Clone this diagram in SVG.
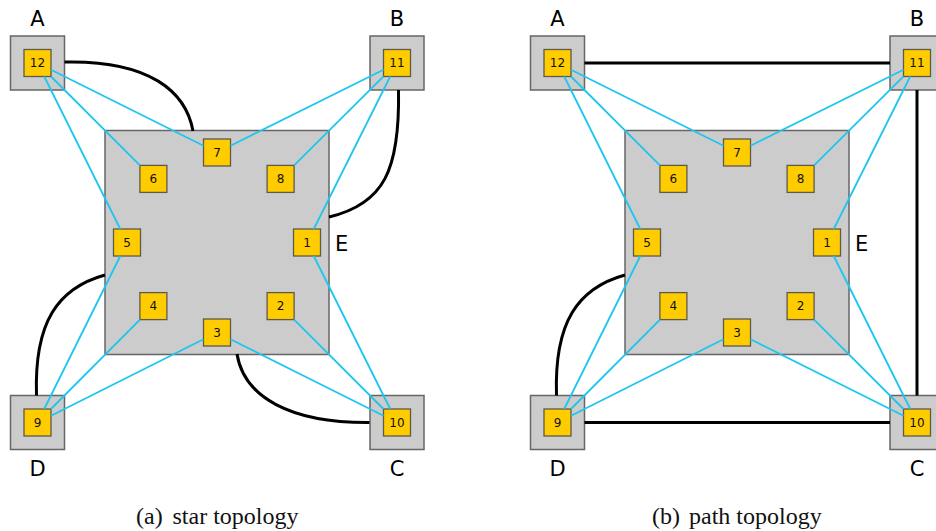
<svg xmlns="http://www.w3.org/2000/svg" width="936" height="531" viewBox="0 0 936 531">
  <style>
    .box { fill: #cccccc; stroke: #666666; stroke-width: 1.5; }
    .port { fill: #ffcc00; stroke: #5e5a4a; stroke-width: 1.3; }
    .num { font-family: "DejaVu Sans", sans-serif; font-size: 12px; text-anchor: middle; fill: #111; }
    .lbl { font-family: "DejaVu Sans", sans-serif; font-size: 21px; fill: #000; }
    .mid { text-anchor: middle; }
    .cap { font-family: "Liberation Serif", serif; font-size: 24px; fill: #111; }
    .link { stroke: #1cc6f0; stroke-width: 1.8; fill: none; }
    .trunk { stroke: #000; stroke-width: 3; fill: none; }
  </style>
  <defs>
    <!-- one yellow port, centred on its own origin -->
    <rect id="port" class="port" x="-13.5" y="-13.5" width="27" height="27"/>
    <!-- a corner switch: grey box around one port -->
    <rect id="corner" class="box" x="-27" y="-27" width="54" height="54"/>
    <!-- cyan links between the corner ports and the ports of E -->
    <g id="links">
      <line class="link" x1="51" y1="69.73" x2="203.5" y2="145.77"/>
      <line class="link" x1="51" y1="76.5" x2="139.9" y2="165.4"/>
      <line class="link" x1="44.23" y1="76.5" x2="120.27" y2="229"/>
      <line class="link" x1="383.5" y1="69.71" x2="230.5" y2="145.79"/>
      <line class="link" x1="383.5" y1="76.44" x2="294.1" y2="165.46"/>
      <line class="link" x1="390.23" y1="76.5" x2="313.77" y2="229"/>
      <line class="link" x1="390.25" y1="409" x2="313.75" y2="256"/>
      <line class="link" x1="383.5" y1="409" x2="294.1" y2="319.6"/>
      <line class="link" x1="383.5" y1="415.75" x2="230.5" y2="339.25"/>
      <line class="link" x1="44.21" y1="409" x2="120.29" y2="256"/>
      <line class="link" x1="50.94" y1="409" x2="139.96" y2="319.6"/>
      <line class="link" x1="51" y1="415.73" x2="203.5" y2="339.27"/>
    </g>
  </defs>

  <!-- (a) star topology -->
  <g id="star">
    <g id="a-A">
      <use href="#corner" x="37.5" y="63"/>
      <use href="#port" x="37.5" y="63"/>
      <text class="num" x="37.5" y="67.3">12</text>
      <text class="lbl mid" x="37.5" y="26">A</text>
    </g>
    <g id="a-B">
      <use href="#corner" x="397" y="63"/>
      <use href="#port" x="397" y="63"/>
      <text class="num" x="397" y="67.3">11</text>
      <text class="lbl mid" x="397" y="26">B</text>
    </g>
    <g id="a-C">
      <use href="#corner" x="397" y="422.5"/>
      <use href="#port" x="397" y="422.5"/>
      <text class="num" x="397" y="426.8">10</text>
      <text class="lbl mid" x="397" y="476">C</text>
    </g>
    <g id="a-D">
      <use href="#corner" x="37.5" y="422.5"/>
      <use href="#port" x="37.5" y="422.5"/>
      <text class="num" x="37.5" y="426.8">9</text>
      <text class="lbl mid" x="37.5" y="476">D</text>
    </g>
    <g id="a-E">
      <rect class="box" x="105" y="130.5" width="224" height="224"/>
      <use href="#port" x="307" y="242.5"/><text class="num" x="307" y="246.8">1</text>
      <use href="#port" x="280.6" y="306.1"/><text class="num" x="280.6" y="310.4">2</text>
      <use href="#port" x="217" y="332.5"/><text class="num" x="217" y="336.8">3</text>
      <use href="#port" x="153.4" y="306.1"/><text class="num" x="153.4" y="310.4">4</text>
      <use href="#port" x="127" y="242.5"/><text class="num" x="127" y="246.8">5</text>
      <use href="#port" x="153.4" y="178.9"/><text class="num" x="153.4" y="183.2">6</text>
      <use href="#port" x="217" y="152.5"/><text class="num" x="217" y="156.8">7</text>
      <use href="#port" x="280.6" y="178.9"/><text class="num" x="280.6" y="183.2">8</text>
      <text class="lbl" x="335" y="251">E</text>
    </g>
    <g id="a-connectors">
      <use href="#links"/>
      <path class="trunk" d="M64.5,62 C150,60 186,92 193,131"/>
      <path class="trunk" d="M398.5,90 C400,170 384,204 329,217"/>
      <path class="trunk" d="M36.5,395.5 C34,322 58,288 105,275"/>
      <path class="trunk" d="M237,354 C244,397 290,423 369.5,422.5"/>
    </g>
    <text class="cap" x="136" y="524">(a) <tspan x="172.5">star topology</tspan></text>
  </g>

  <!-- (b) path topology -->
  <g id="path" transform="translate(520,0)">
    <g id="b-A">
      <use href="#corner" x="37.5" y="63"/>
      <use href="#port" x="37.5" y="63"/>
      <text class="num" x="37.5" y="67.3">12</text>
      <text class="lbl mid" x="37.5" y="26">A</text>
    </g>
    <g id="b-B">
      <use href="#corner" x="397" y="63"/>
      <use href="#port" x="397" y="63"/>
      <text class="num" x="397" y="67.3">11</text>
      <text class="lbl mid" x="397" y="26">B</text>
    </g>
    <g id="b-C">
      <use href="#corner" x="397" y="422.5"/>
      <use href="#port" x="397" y="422.5"/>
      <text class="num" x="397" y="426.8">10</text>
      <text class="lbl mid" x="397" y="476">C</text>
    </g>
    <g id="b-D">
      <use href="#corner" x="37.5" y="422.5"/>
      <use href="#port" x="37.5" y="422.5"/>
      <text class="num" x="37.5" y="426.8">9</text>
      <text class="lbl mid" x="37.5" y="476">D</text>
    </g>
    <g id="b-E">
      <rect class="box" x="105" y="130.5" width="224" height="224"/>
      <use href="#port" x="307" y="242.5"/><text class="num" x="307" y="246.8">1</text>
      <use href="#port" x="280.6" y="306.1"/><text class="num" x="280.6" y="310.4">2</text>
      <use href="#port" x="217" y="332.5"/><text class="num" x="217" y="336.8">3</text>
      <use href="#port" x="153.4" y="306.1"/><text class="num" x="153.4" y="310.4">4</text>
      <use href="#port" x="127" y="242.5"/><text class="num" x="127" y="246.8">5</text>
      <use href="#port" x="153.4" y="178.9"/><text class="num" x="153.4" y="183.2">6</text>
      <use href="#port" x="217" y="152.5"/><text class="num" x="217" y="156.8">7</text>
      <use href="#port" x="280.6" y="178.9"/><text class="num" x="280.6" y="183.2">8</text>
      <text class="lbl" x="335" y="251">E</text>
    </g>
    <g id="b-connectors">
      <use href="#links"/>
      <path class="trunk" d="M64.5,63 H370"/>
      <path class="trunk" d="M397,90 V395.5"/>
      <path class="trunk" d="M64.5,422.5 H370"/>
      <path class="trunk" d="M36.5,395.5 C34,322 58,288 105,275"/>
    </g>
    <text class="cap" x="132" y="524">(b) <tspan x="169">path topology</tspan></text>
  </g>
</svg>
